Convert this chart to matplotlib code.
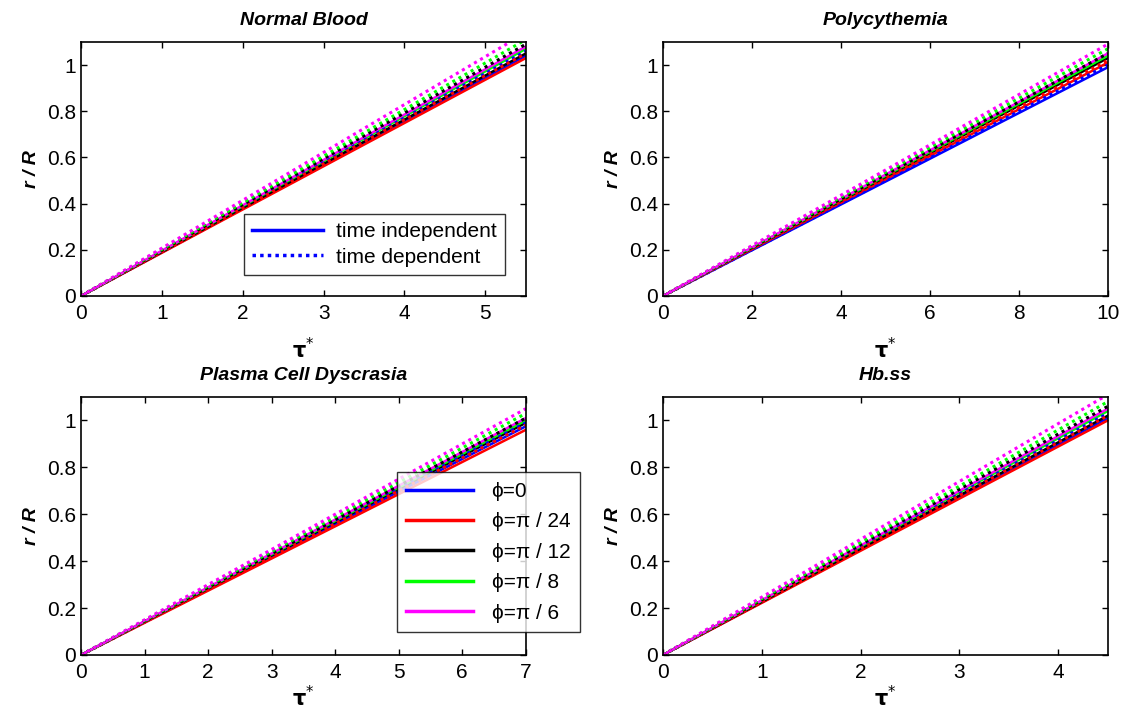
import matplotlib
matplotlib.use("Agg")
import matplotlib.pyplot as plt
from matplotlib.lines import Line2D

plt.rcParams['font.family'] = ['Liberation Sans', 'DejaVu Sans']
plt.rcParams['mathtext.fontset'] = 'custom'
plt.rcParams['mathtext.bf'] = 'DejaVu Sans:bold'

titles = ["Normal Blood", "Polycythemia", "Plasma Cell Dyscrasia", "Hb.ss"]
tau_max = [5.5, 10, 7, 4.5]
xticks = [[0, 1, 2, 3, 4, 5], [0, 2, 4, 6, 8, 10], [0, 1, 2, 3, 4, 5, 6, 7], [0, 1, 2, 3, 4]]

phi_labels = ["\u03d5=0", "\u03d5=\u03c0 / 24", "\u03d5=\u03c0 / 12", "\u03d5=\u03c0 / 8", "\u03d5=\u03c0 / 6"]
colors = ["#0000ff", "#ff0000", "#000000", "#00ff00", "#ff00ff"]

# r/R at the end of each curve (tau = tau_max), order: phi = 0, pi/24, pi/12, pi/8, pi/6
end_indep = [
    [1.04, 1.03, 1.05, 1.07, 1.08],
    [0.99, 1.01, 1.03, 1.04, 1.05],
    [0.975, 0.96, 0.99, 1.00, 1.01],
    [1.01, 1.00, 1.02, 1.04, 1.05],
]
end_dep = [
    [1.06, 1.05, 1.09, 1.11, 1.14],
    [1.00, 1.02, 1.05, 1.07, 1.09],
    [0.99, 0.98, 1.01, 1.03, 1.05],
    [1.03, 1.02, 1.06, 1.08, 1.11],
]

positions = [
    [0.0723, 0.5837, 0.3967, 0.3573],
    [0.5914, 0.5837, 0.3967, 0.3573],
    [0.0723, 0.0788, 0.3967, 0.3628],
    [0.5914, 0.0788, 0.3967, 0.3628],
]
xlabel_pad = [10, 10, 2, 2]

fig = plt.figure(figsize=(11.21, 7.11), dpi=100)
fs = 15

axes = []
for k in range(4):
    ax = fig.add_axes(positions[k])
    for i in range(5):
        ax.plot([0, tau_max[k]], [0, end_indep[k][i]], color=colors[i], lw=1.8, ls='-')
    for i in range(5):
        ax.plot([0, tau_max[k]], [0, end_dep[k][i]], color=colors[i], lw=2.2, ls=(0, (1, 1.3)))
    ax.set_xlim(0, tau_max[k])
    ax.set_ylim(0, 1.1)
    ax.set_xticks(xticks[k])
    ax.set_yticks([0, 0.2, 0.4, 0.6, 0.8, 1])
    ax.set_yticklabels(["0", "0.2", "0.4", "0.6", "0.8", "1"])
    ax.tick_params(direction='in', top=True, right=True, labelsize=fs, length=4, width=1)
    ax.tick_params(axis='x', pad=6)
    for s in ax.spines.values():
        s.set_linewidth(1.2)
    ax.set_title(titles[k], fontsize=14, fontweight='bold', style='italic', pad=12)
    ax.set_ylabel("r / R", fontsize=14, fontweight='bold', style='italic', labelpad=5)
    ax.set_xlabel(r"$\mathbf{\tau}^{*}$", fontsize=15, labelpad=xlabel_pad[k])
    axes.append(ax)

h1 = [Line2D([], [], color='#0000ff', lw=2.5, ls='-'),
      Line2D([], [], color='#0000ff', lw=2.5, ls=(0, (1, 1.2)))]
leg1 = axes[0].legend(h1, ["time independent", "time dependent"], loc='lower right',
                      bbox_to_anchor=(0.953, 0.083), borderaxespad=0, fontsize=fs,
                      frameon=True, fancybox=False, edgecolor='black', handlelength=3.4,
                      borderpad=0.4, labelspacing=0.3, handletextpad=0.6)
leg1.get_frame().set_linewidth(1.0)

h2 = [Line2D([], [], color=c, lw=2.5) for c in colors]
leg2 = axes[2].legend(h2, phi_labels, loc='lower right', bbox_to_anchor=(1.121, 0.089),
                      borderaxespad=0, fontsize=fs, frameon=True, fancybox=False,
                      edgecolor='black', handlelength=3.2, borderpad=0.45, labelspacing=0.55,
                      handletextpad=0.9)
leg2.get_frame().set_linewidth(1.0)
leg2.set_zorder(10)

fig.savefig("out.png", dpi=100)
